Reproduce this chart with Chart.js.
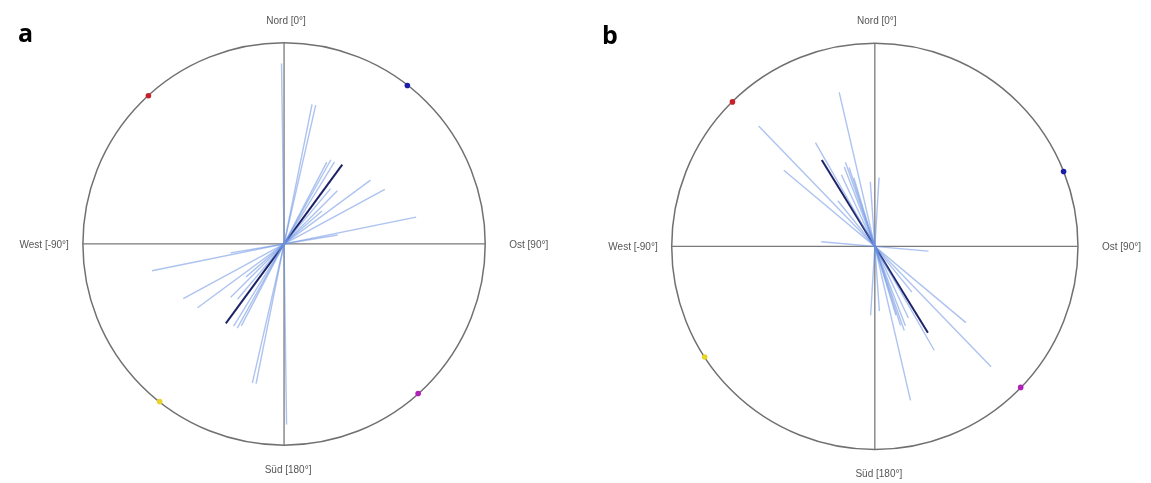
<!DOCTYPE html>
<html>
<head>
<meta charset="utf-8">
<script src="https://cdn.jsdelivr.net/npm/chart.js@4.4.0/dist/chart.umd.min.js"></script>
<style>
  html, body { margin: 0; padding: 0; background: #fff; width: 1151px; height: 483px; overflow: hidden; }
  canvas { position: absolute; top: 0; }
  #ca { left: 0; }
  #cb { left: 576px; }
</style>
</head>
<body>
<canvas id="ca" width="576" height="483"></canvas>
<canvas id="cb" width="575" height="483"></canvas>
<script>
// Axial directions in degrees, clockwise from north; half-lengths in units of the circle radius.
const dirA = [-0.8, 11.3, 12.8, 27.5, 29, 31.5, 40, 45, 49, 53.5, 61.5, 78.5, 80.5];
const lenA = [0.90, 0.71, 0.71, 0.46, 0.48, 0.48, 0.36, 0.375, 0.25, 0.535, 0.57, 0.67, 0.27];
const meanDirA = 36.2;
const meanLenA = 0.49;
const markDirA = [-42.4, 37.8, 138.2, -141.8];

const dirB = [-43.9, -50, -29.7, -13, -21, -19.2, -18, -17, -4, 3.5, -85, -39, -25];
const lenB = [0.825, 0.585, 0.59, 0.78, 0.42, 0.44, 0.41, 0.355, 0.32, 0.34, 0.265, 0.29, 0.39];
const meanDirB = -31.5;
const meanLenB = 0.50;
const markDirB = [-44.5, 68.3, 134.1, -123.1];

const markColors = ['#c8202a', '#1c1caa', '#b020b8', '#e8d424'];
const compassLabels = ['Nord [0°]', 'Ost [90°]', 'Süd [180°]', 'West [-90°]'];
const panelLabels = ['a', 'b'];

const rad = d => d * Math.PI / 180;
const tip = (deg, len) => ({ x: len * Math.sin(rad(deg)), y: len * Math.cos(rad(deg)) });

// Circle frame, north–south / east–west cross and all labels
const compassPlugin = {
  id: 'compass',
  beforeDatasetsDraw(chart, args, opts) {
    const { ctx, scales: { x, y } } = chart;
    const cx = x.getPixelForValue(0), cy = y.getPixelForValue(0);
    const r = x.getPixelForValue(1) - cx;
    ctx.save();
    ctx.strokeStyle = '#707070';
    ctx.lineWidth = 1.5;
    ctx.beginPath();
    ctx.arc(cx, cy, r, 0, Math.PI * 2);
    ctx.stroke();
    ctx.strokeStyle = '#7a7a7a';
    ctx.lineWidth = 1.3;
    ctx.beginPath();
    ctx.moveTo(cx - r, cy); ctx.lineTo(cx + r, cy);
    ctx.moveTo(cx, cy - r); ctx.lineTo(cx, cy + r);
    ctx.stroke();
    ctx.restore();
  },
  afterDraw(chart, args, opts) {
    const { ctx, scales: { x, y } } = chart;
    const cx = x.getPixelForValue(0), cy = y.getPixelForValue(0);
    const r = x.getPixelForValue(1) - cx;
    ctx.save();
    ctx.fillStyle = '#555';
    ctx.font = '10px "Liberation Sans", Arial, sans-serif';
    ctx.textBaseline = 'middle';
    ctx.textAlign = 'center';
    ctx.fillText(compassLabels[0], cx + 2, cy - r - 22);
    ctx.fillText(compassLabels[2], cx + 4, cy + r + 25);
    ctx.textAlign = 'left';
    ctx.fillText(compassLabels[1], cx + r + 24, cy + 1);
    ctx.textAlign = 'right';
    ctx.fillText(compassLabels[3], cx - r - 14, cy + 1);
    ctx.fillStyle = '#000';
    ctx.font = 'bold 25px "Open Sans", sans-serif';
    ctx.textAlign = 'left';
    ctx.fillText(opts.label, opts.labelX, opts.labelY);
    ctx.restore();
  }
};

function buildChart(id, dirs, lens, meanDir, meanLen, marks, geo, label) {
  const datasets = dirs.map((d, i) => {
    const t = tip(d, lens[i]);
    return {
      data: [{ x: -t.x, y: -t.y }, { x: t.x, y: t.y }],
      showLine: true,
      borderColor: 'rgba(105,145,225,0.55)',
      borderWidth: 1.4,
      pointRadius: 0
    };
  });
  const m = tip(meanDir, meanLen);
  datasets.push({
    data: [{ x: -m.x, y: -m.y }, { x: m.x, y: m.y }],
    showLine: true,
    borderColor: '#1e2368',
    borderWidth: 2,
    pointRadius: 0
  });
  datasets.push({
    data: marks.map(d => tip(d, 1)),
    showLine: false,
    pointRadius: 2.8,
    pointBackgroundColor: markColors,
    pointBorderWidth: 0,
    clip: false
  });
  const W = geo.w, H = geo.h;
  return new Chart(document.getElementById(id), {
    type: 'scatter',
    data: { datasets },
    options: {
      responsive: false,
      animation: false,
      events: [],
      layout: { padding: 0 },
      scales: {
        x: { type: 'linear', display: false, min: -geo.cx / geo.r, max: (W - geo.cx) / geo.r },
        y: { type: 'linear', display: false, min: -(H - geo.cy) / geo.r, max: geo.cy / geo.r }
      },
      plugins: {
        legend: { display: false },
        tooltip: { enabled: false },
        compass: { label, labelX: geo.lx, labelY: geo.ly }
      }
    },
    plugins: [compassPlugin]
  });
}

buildChart('ca', dirA, lenA, meanDirA, meanLenA, markDirA,
  { w: 576, h: 483, cx: 284, cy: 244, r: 204, lx: 18, ly: 35 }, panelLabels[0]);
buildChart('cb', dirB, lenB, meanDirB, meanLenB, markDirB,
  { w: 575, h: 483, cx: 299, cy: 246.5, r: 206, lx: 26, ly: 37 }, panelLabels[1]);
</script>
</body>
</html>
